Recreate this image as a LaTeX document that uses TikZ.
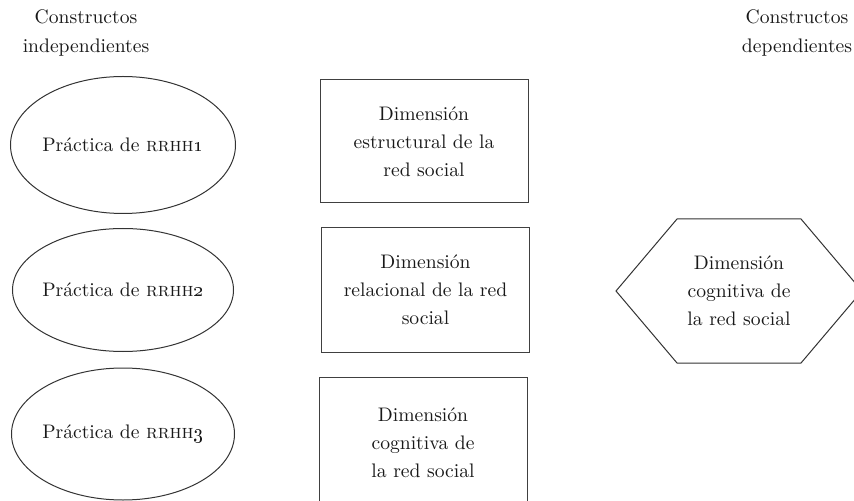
\documentclass[tikz,border=0pt]{standalone}
\begin{document}
\begin{tikzpicture}[x=0.5pt,y=-0.5pt,
    every node/.style={font=\fontsize{9.8}{14}\selectfont,text=black!90,align=center},
    practica/.style={draw=black!80,line width=0.5pt},
    dimbox/.style={rectangle,draw=black!75,line width=0.5pt,minimum width=104pt,inner sep=0pt}]
   \useasboundingbox (0,0) rectangle (854,501);
   \node (indep) at (86,33) {Constructos\\independientes};
   \node (dep) at (797,33) {Constructos\\dependientes};
   \foreach \n/\y/\rx/\ry in
     {1/145/112.5/68.5,
      2/290/110.5/61.5,
      3/434/111.5/66}
   {
     \node (rrhh\n) at (123,\y) {Práctica de \textsc{rrhh}\oldstylenums{\n}};
     \draw[practica] (rrhh\n.center) ellipse [x radius=\rx, y radius=\ry];
   }
   \node[dimbox,minimum height=61.5pt] (estruct) at (424,141.5)
     {Dimensión\\estructural de la\\red social};
   \node[dimbox,minimum height=62pt] (relac) at (425.5,290)
     {Dimensión\\relacional de la red\\social};
   \node[dimbox,minimum height=66pt] (cogn) at (423,443)
     {Dimensión\\cognitiva de\\la red social};
   \node (cogdep) at (739,291) {Dimensión\\cognitiva de\\la red social};
   \draw[practica] (cogdep.center) ++(-123,0) -- ++(61,-72) -- ++(124,0)
     -- ++(61,72) -- ++(-61,72) -- ++(-124,0) -- cycle;
\end{tikzpicture}
\end{document}
